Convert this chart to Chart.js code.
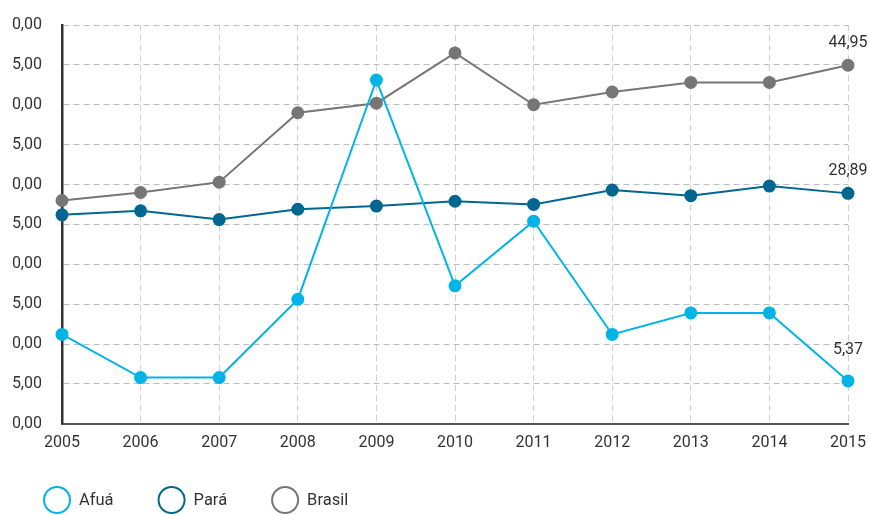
<!DOCTYPE html>
<html>
<head>
<meta charset="utf-8">
<script src="https://cdn.jsdelivr.net/npm/chart.js@4/dist/chart.umd.min.js"></script>
<style>
  html, body { margin: 0; padding: 0; background: #ffffff; }
  #wrap { width: 870px; height: 515px; position: relative; }
</style>
</head>
<body>
<div id="wrap"><canvas id="c" width="870" height="515"></canvas></div>
<script>
const years = ['2005','2006','2007','2008','2009','2010','2011','2012','2013','2014','2015'];
const afua   = [11.2, 5.8, 5.8, 15.6, 43.1, 17.3, 25.4, 11.2, 13.9, 13.9, 5.37];
const para   = [26.2, 26.7, 25.6, 26.9, 27.3, 27.9, 27.5, 29.3, 28.6, 29.8, 28.89];
const brasil = [28.0, 29.0, 30.3, 39.0, 40.2, 46.5, 40.0, 41.6, 42.8, 42.8, 44.95];
const seriesNames = ['Afuá', 'Pará', 'Brasil'];
const yTickValues = [0, 5, 10, 15, 20, 25, 30, 35, 40, 45, 50];
const yTickLabels = ['0,00', '5,00', '0,00', '5,00', '0,00', '5,00', '0,00', '5,00', '0,00', '5,00', '0,00'];

const COLORS = ['#00b4e8', '#006790', '#767676'];
const FONT = 'Roboto, "DejaVu Sans", sans-serif';
const TEXT = '#333333';

function fmt(v) { return v.toFixed(2).replace('.', ','); }

const lastLabelPlugin = {
  id: 'lastLabel',
  afterDatasetsDraw(chart) {
    const ctx = chart.ctx;
    ctx.save();
    ctx.font = '16px ' + FONT;
    ctx.fillStyle = TEXT;
    ctx.textAlign = 'center';
    ctx.textBaseline = 'middle';
    chart.data.datasets.forEach((ds, i) => {
      const meta = chart.getDatasetMeta(i);
      const n = ds.data.length - 1;
      const pt = meta.data[n];
      ctx.fillText(fmt(ds.data[n]), pt.x, pt.y - ds.labelOffset);
    });
    ctx.restore();
  }
};

const legendPlugin = {
  id: 'customLegend',
  afterDraw(chart) {
    const ctx = chart.ctx;
    ctx.save();
    ctx.font = '16.5px ' + FONT;
    ctx.textBaseline = 'middle';
    ctx.textAlign = 'left';
    let x = 43;
    const y = 500;
    chart.data.datasets.forEach((ds) => {
      ctx.beginPath();
      ctx.arc(x + 14, y, 13, 0, Math.PI * 2);
      ctx.lineWidth = 2;
      ctx.strokeStyle = ds.borderColor;
      ctx.stroke();
      ctx.fillStyle = TEXT;
      ctx.fillText(ds.label, x + 36, y + 1);
      x = x + 36 + ctx.measureText(ds.label).width + 44;
    });
    ctx.restore();
  }
};

const mk = (label, data, i, off) => ({
  label, data,
  borderColor: COLORS[i],
  backgroundColor: COLORS[i],
  pointBackgroundColor: COLORS[i],
  pointBorderColor: COLORS[i],
  borderWidth: 2,
  pointRadius: 5.5,
  pointHoverRadius: 5.5,
  tension: 0,
  labelOffset: off
});

new Chart(document.getElementById('c'), {
  type: 'line',
  data: {
    labels: years,
    datasets: [
      mk(seriesNames[0], afua, 0, 31),
      mk(seriesNames[1], para, 1, 22),
      mk(seriesNames[2], brasil, 2, 22)
    ]
  },
  options: {
    responsive: false,
    animation: false,
    layout: { padding: { left: 8, right: 22, top: 25, bottom: 52 } },
    plugins: { legend: { display: false }, tooltip: { enabled: false } },
    scales: {
      x: {
        offset: false,
        afterFit(scale) { scale.paddingLeft = 0; scale.paddingRight = 0; },
        grid: { color: '#cfcfcf', lineWidth: 1, drawTicks: false },
        border: { display: true, color: '#555555', width: 2, dash: [6, 4] },
        ticks: { color: TEXT, font: { family: FONT, size: 16 }, padding: 10, maxRotation: 0, autoSkip: false }
      },
      y: {
        min: 0, max: 50,
        afterBuildTicks(scale) { scale.ticks = yTickValues.map(v => ({ value: v })); },
        afterFit(scale) { scale.width = 54; scale.paddingTop = 0; scale.paddingBottom = 0; },
        grid: { color: '#bdbdbd', lineWidth: 1, drawTicks: false },
        border: { display: true, color: '#333333', width: 2.5, dash: [6, 4] },
        ticks: {
          color: TEXT, font: { family: FONT, size: 16 }, padding: 20,
          callback(v) { const k = yTickValues.indexOf(v); return k >= 0 ? yTickLabels[k] : ''; }
        }
      }
    }
  },
  plugins: [lastLabelPlugin, legendPlugin]
});
</script>
</body>
</html>
